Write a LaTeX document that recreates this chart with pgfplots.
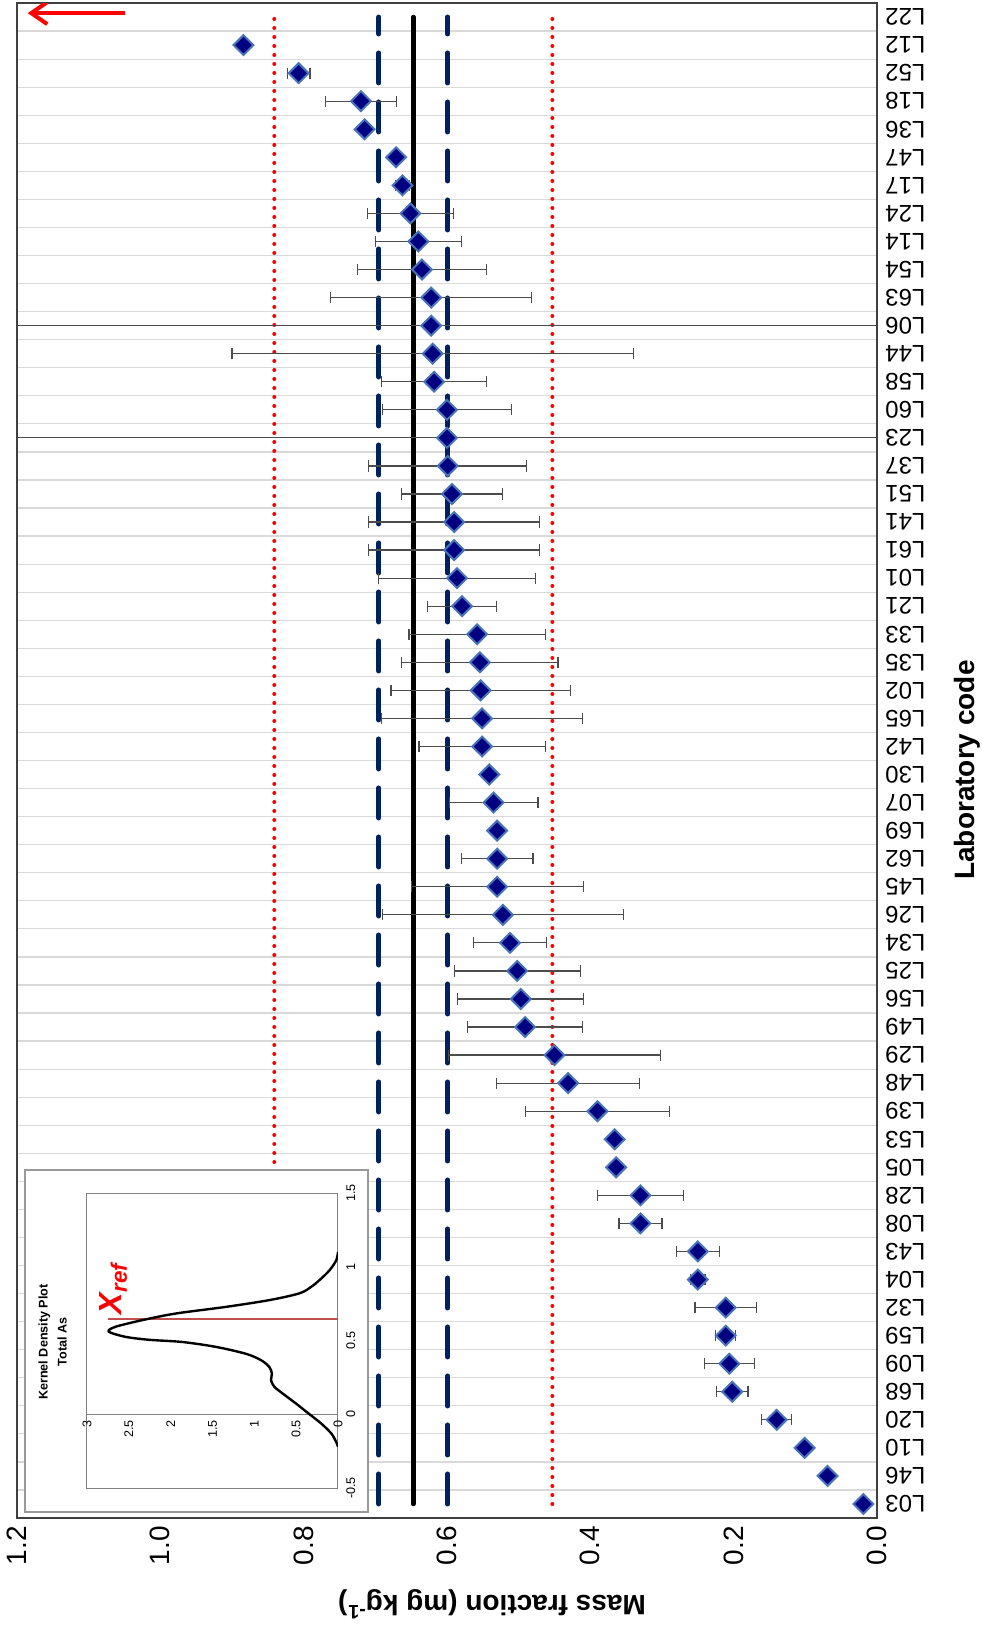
\documentclass[border=0pt]{standalone}
\usepackage{fontspec}
\setmainfont{Liberation Sans}
\usepackage{pgfplots}
\usepackage{pgfplotstable}
\pgfplotsset{compat=1.18}
\usetikzlibrary{arrows.meta}
\definecolor{mk}{RGB}{0,0,128}
\definecolor{mkedge}{RGB}{70,115,185}
\definecolor{navyd}{RGB}{0,32,96}
\definecolor{xrefred}{RGB}{192,80,77}

\pgfplotstableread{
idx val err
0 0.019 0
1 0.069 0
2 0.101 0
3 0.140 0.021
4 0.202 0.022
5 0.206 0.035
6 0.211 0.014
7 0.211 0.043
8 0.250 0.010
9 0.250 0.030
10 0.330 0.030
11 0.330 0.060
12 0.364 0
13 0.366 0
14 0.390 0.100
15 0.431 0.100
16 0.450 0.148
17 0.491 0.080
18 0.497 0.088
19 0.502 0.088
20 0.512 0.051
21 0.522 0.168
22 0.530 0.120
23 0.530 0.050
24 0.530 0
25 0.535 0.062
26 0.541 0
27 0.551 0.088
28 0.551 0.140
29 0.553 0.125
30 0.554 0.109
31 0.558 0.095
32 0.579 0.048
33 0.586 0.110
34 0.590 0.119
35 0.590 0.119
36 0.593 0.070
37 0.599 0.110
38 0.600 2.0
39 0.600 0.090
40 0.618 0.073
41 0.620 0.280
42 0.622 2.0
43 0.622 0.140
44 0.635 0.090
45 0.640 0.060
46 0.651 0.060
47 0.662 0.010
48 0.671 0
49 0.715 0
50 0.720 0.050
51 0.807 0.016
52 0.884 0
}\labdata

\pgfplotstableread{
d v
0.00 -0.22
0.02 -0.19
0.08 -0.13
0.20 -0.063
0.34 0.0
0.50 0.072
0.66 0.14
0.76 0.186
0.80 0.23
0.79 0.276
0.82 0.32
0.92 0.367
1.10 0.41
1.46 0.457
1.86 0.49
2.26 0.505
2.54 0.525
2.74 0.56
2.66 0.593
2.34 0.638
1.94 0.683
1.34 0.728
0.82 0.774
0.46 0.82
0.32 0.864
0.22 0.91
0.10 0.977
0.02 1.045
0.00 1.10
}\kdedata

\begin{document}
\begin{tikzpicture}
\begin{axis}[
  at={(8.5pt,-759pt)}, anchor=south west,
  scale only axis, width=430pt, height=757.5pt,
  xmin=0, xmax=1.2, x dir=reverse,
  ymin=-0.5, ymax=53.5,
  xtick={0,0.2,0.4,0.6,0.8,1.0,1.2},
  xticklabels={0.0,0.2,0.4,0.6,0.8,1.0,1.2},
  ytick={0,1,...,53},
  yticklabels={L03,L46,L10,L20,L68,L09,L59,L32,L04,L43,L08,L28,L05,L53,L39,L48,L29,L49,L56,L25,L34,L26,L45,L62,L69,L07,L30,L42,L65,L02,L35,L33,L21,L01,L61,L41,L51,L37,L23,L60,L58,L44,L06,L63,L54,L14,L24,L17,L47,L36,L18,L52,L12,L22},
  minor ytick={0.5,1.5,...,52.5},
  yminorgrids=true,
  minor grid style={black!15, line width=0.6pt},
  major tick length=0pt, minor tick length=0pt,
  yticklabel pos=right,
  xticklabel style={rotate=90, anchor=east, font=\fontsize{14}{14}\selectfont, inner sep=4pt},
  yticklabel style={rotate=180, anchor=east, font=\fontsize{12}{12}\selectfont, inner sep=4pt},
  axis line style={black!75, line width=0.8pt},
]
\addplot[red, line width=2pt, dash pattern=on 0pt off 4.5pt, line cap=round] coordinates {(0.841,0) (0.841,53)};
\addplot[red, line width=2pt, dash pattern=on 0pt off 4.5pt, line cap=round] coordinates {(0.453,0) (0.453,53)};
\addplot[navyd, line width=2.5pt, dash pattern=on 15pt off 9.5pt, line cap=round] coordinates {(0.695,0) (0.695,53)};
\addplot[navyd, line width=2.5pt, dash pattern=on 15pt off 9.5pt, line cap=round] coordinates {(0.599,0) (0.599,53)};
\addplot[black, line width=2.25pt, line cap=round] coordinates {(0.647,0) (0.647,53)};
\addplot[only marks, mark=square*, mark size=3.5pt,
  mark options={rotate=45, fill=mk, draw=mkedge, line width=1pt},
  error bars/.cd, x dir=both, x explicit,
  error bar style={black!70, line width=0.6pt},
  error mark options={rotate=90, black!70, line width=0.6pt, mark size=2.8pt}]
  table[x=val, y=idx, x error=err] {\labdata};
\addplot[red, line width=2pt, -{Straight Barb[length=8pt, width=11pt, line width=2pt]}] coordinates {(1.049,53.14) (1.185,53.14)};
\end{axis}

\draw[black!40, fill=white, line width=0.6pt] (12.5pt,-585pt) rectangle (184pt,-756pt);

\begin{axis}[
  at={(43.5pt,-744pt)}, anchor=south west,
  scale only axis, width=125.5pt, height=147.5pt,
  xmin=0, xmax=3, x dir=reverse, ymin=-0.5, ymax=1.5,
  xtick={0,0.5,1,1.5,2,2.5,3}, xticklabels={0,0.5,1,1.5,2,2.5,3},
  ytick={-0.5,0,0.5,1,1.5}, yticklabels={-0.5,0,0.5,1,1.5},
  yticklabel pos=right,
  xticklabel shift=-35pt,
  tick label style={font=\fontsize{6.3}{6.3}\selectfont},
  xticklabel style={rotate=90, anchor=east, inner sep=1pt},
  yticklabel style={rotate=90, anchor=north, inner sep=4pt},
  major tick length=0pt,
  axis line style={black!50, line width=0.5pt},
]
\addplot[black!50, line width=0.5pt] coordinates {(0,0) (3,0)};
\addplot[xrefred, line width=1.1pt] coordinates {(0,0.647) (2.75,0.647)};
\addplot[black, line width=1.2pt, smooth, tension=0.5] table[x=d, y=v] {\kdedata};
\end{axis}

\node[rotate=90, align=center, font=\bfseries\fontsize{6.3}{9.5}\selectfont] at (26.25pt,-671pt) {Kernel Density Plot\\Total As};
\node[rotate=90, text=red, font=\bfseries\itshape\fontsize{16}{16}\selectfont] at (56.75pt,-644.25pt) {X\textsubscript{ref}};

\node[rotate=180, font=\bfseries\fontsize{14}{14}\selectfont] at (246pt,-802pt) {Mass fraction (mg kg\textsuperscript{-1})};
\node[rotate=90, font=\bfseries\fontsize{14}{14}\selectfont] at (483.5pt,-385pt) {Laboratory code};

\pgfresetboundingbox
\path[use as bounding box] (0,0) rectangle (491.5pt,-817pt);
\end{tikzpicture}
\end{document}
